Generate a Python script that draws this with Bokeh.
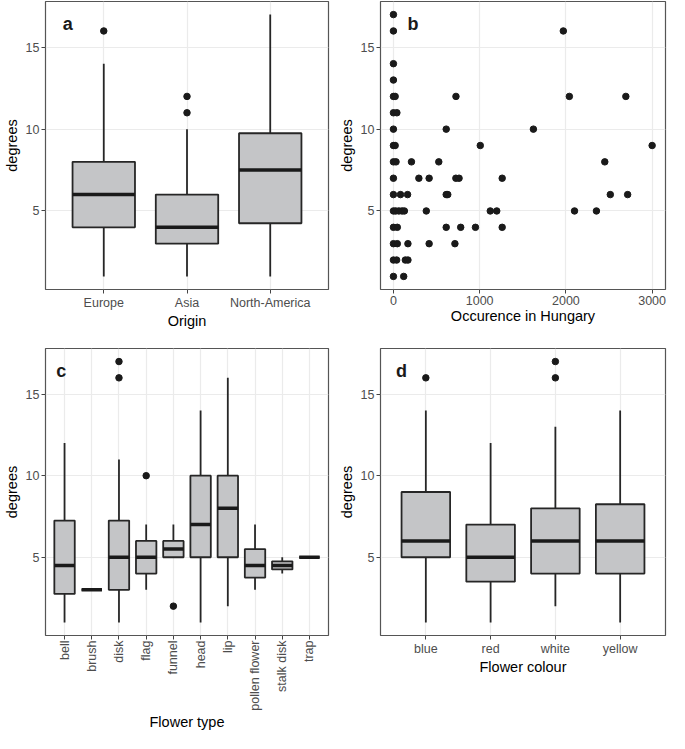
import math
from bokeh.plotting import figure
from bokeh.layouts import column, row
from bokeh.models import FactorRange, Range1d, FixedTicker, Label
from bokeh.embed import file_html
from bokeh.resources import INLINE

FONT = "Liberation Sans"
BOX_FILL = "#C4C5C7"
DARK = "#262626"

# ---------------- data ----------------
# panel a: Origin
origin_cats = ["Europe", "Asia", "North-America"]
origin_low = [1, 1, 1]
origin_q1 = [4, 3, 4.25]
origin_med = [6, 4, 7.5]
origin_q3 = [8, 6, 9.75]
origin_high = [14, 10, 17]
origin_out_x = ["Europe", "Asia", "Asia"]
origin_out_y = [16, 11, 12]

# panel b: occurrence in Hungary vs degrees
occ_x = [0,
         0, 1970,
         0,
         0,
         0, 20, 725, 2040, 2695,
         0, 40,
         0, 612, 1623,
         0, 20, 1007, 3000,
         0, 30, 209, 526, 2451,
         0, 295, 414, 724, 761, 1261,
         0, 82, 164, 612, 630, 2515, 2716,
         0, 26, 63, 100, 127, 381, 1123, 1198, 2100, 2354,
         0, 45, 612, 780, 951, 1261,
         0, 45, 168, 414, 713,
         0, 37, 138, 168,
         0, 119]
occ_y = [17,
         16, 16,
         14,
         13,
         12, 12, 12, 12, 12,
         11, 11,
         10, 10, 10,
         9, 9, 9, 9,
         8, 8, 8, 8, 8,
         7, 7, 7, 7, 7, 7,
         6, 6, 6, 6, 6, 6, 6,
         5, 5, 5, 5, 5, 5, 5, 5, 5, 5,
         4, 4, 4, 4, 4, 4,
         3, 3, 3, 3, 3,
         2, 2, 2, 2,
         1, 1]

# panel c: Flower type
type_cats = ["bell", "brush", "disk", "flag", "funnel", "head", "lip",
             "pollen flower", "stalk disk", "trap"]
type_low = [1, 3, 1, 3, 5, 1, 2, 3, 4, 5]
type_q1 = [2.75, 3, 3, 4, 5, 5, 5, 3.75, 4.25, 5]
type_med = [4.5, 3, 5, 5, 5.5, 7, 8, 4.5, 4.5, 5]
type_q3 = [7.25, 3, 7.25, 6, 6, 10, 10, 5.5, 4.75, 5]
type_high = [12, 3, 11, 7, 7, 14, 16, 7, 5, 5]
type_out_x = ["disk", "disk", "flag", "funnel"]
type_out_y = [16, 17, 10, 2]

# panel d: Flower colour
col_cats = ["blue", "red", "white", "yellow"]
col_low = [1, 1, 2, 1]
col_q1 = [5, 3.5, 4, 4]
col_med = [6, 5, 6, 6]
col_q3 = [9, 7, 8, 8.25]
col_high = [14, 12, 13, 14]
col_out_x = ["blue", "white", "white"]
col_out_y = [16, 16, 17]

Y_TICKS = [5, 10, 15]
OCC_TICKS = [0, 1000, 2000, 3000]
Y_START, Y_END = 0.2, 17.8


def style(p, xlabel):
    p.background_fill_color = "white"
    p.border_fill_color = "white"
    p.outline_line_color = "#555555"
    p.outline_line_width = 1.2
    for ax in p.axis:
        ax.axis_line_color = None
        ax.major_tick_line_color = "#444444"
        ax.major_tick_line_width = 1
        ax.major_tick_out = 4
        ax.major_tick_in = 0
        ax.minor_tick_line_color = None
        ax.major_label_text_font = FONT
        ax.major_label_text_font_size = "12.5px"
        ax.major_label_text_color = "#4D4D4D"
        ax.major_label_standoff = 2
        ax.axis_label_text_font = FONT
        ax.axis_label_text_font_size = "14.5px"
        ax.axis_label_text_font_style = "normal"
        ax.axis_label_text_color = "black"
        ax.axis_label_standoff = 3
    p.xaxis.axis_label = xlabel
    p.xaxis.axis_label_standoff = 0
    p.yaxis.axis_label = "degrees"
    p.yaxis.ticker = FixedTicker(ticks=Y_TICKS)
    p.grid.grid_line_color = "#EBEBEB"
    p.grid.grid_line_width = 1.2


def add_letter(p, txt, x, xoff):
    p.add_layout(Label(x=x, y=16.4, x_offset=xoff, text=txt,
                       text_font=FONT, text_font_size="18px",
                       text_font_style="bold", text_color="#1a1a1a",
                       text_baseline="middle", text_align="left"))


def boxplot(p, cats, low, q1, med, q3, high, out_x, out_y):
    p.segment(x0=cats, y0=q3, x1=cats, y1=high, line_color=DARK, line_width=1.8)
    p.segment(x0=cats, y0=q1, x1=cats, y1=low, line_color=DARK, line_width=1.8)
    p.vbar(x=cats, bottom=q1, top=q3, width=0.75, fill_color=BOX_FILL,
           line_color=DARK, line_width=1.8)
    p.segment(x0=[(c, -0.375) for c in cats], y0=med,
              x1=[(c, 0.375) for c in cats], y1=med,
              line_color="#1a1a1a", line_width=3.5, line_cap="butt")
    p.scatter(x=out_x, y=out_y, size=6.5, fill_color="#1a1a1a",
              line_color="#1a1a1a")


def cat_fig(cats, w, h, left, right, top, bottom):
    return figure(x_range=FactorRange(factors=cats, range_padding=0.2,
                                      range_padding_units="absolute"),
                  y_range=Range1d(Y_START, Y_END), width=w, height=h,
                  min_border_left=left, min_border_right=right,
                  min_border_top=top, min_border_bottom=bottom,
                  output_backend="svg", toolbar_location=None)


TOP_H = 339      # 1 + 288 + 50
BOT_H = 394      # 9 + 287 + 98

# ---------------- panel a ----------------
pa = cat_fig(origin_cats, 335, TOP_H, 40, 7, 1, 50)
boxplot(pa, origin_cats, origin_low, origin_q1, origin_med, origin_q3,
        origin_high, origin_out_x, origin_out_y)
style(pa, "Origin")
add_letter(pa, "a", -0.1, 9)

# ---------------- panel b ----------------
pb = figure(x_range=Range1d(-150, 3155), y_range=Range1d(Y_START, Y_END),
            width=334, height=TOP_H, min_border_left=42, min_border_right=4,
            min_border_top=1, min_border_bottom=50,
            output_backend="svg", toolbar_location=None)
pb.scatter(x=occ_x, y=occ_y, size=6.5, fill_color="#1a1a1a", line_color="#1a1a1a")
style(pb, "Occurence in Hungary")
pb.xaxis.ticker = FixedTicker(ticks=OCC_TICKS)
add_letter(pb, "b", -150, 27)

# ---------------- panel c ----------------
pc = cat_fig(type_cats, 335, BOT_H, 40, 7, 9, 98)
boxplot(pc, type_cats, type_low, type_q1, type_med, type_q3, type_high,
        type_out_x, type_out_y)
style(pc, "Flower type")
pc.xaxis.major_label_orientation = math.pi / 2
pc.xaxis.major_label_standoff = 1
add_letter(pc, "c", -0.1, 8)

# ---------------- panel d ----------------
pd_ = cat_fig(col_cats, 334, BOT_H, 42, 4, 9, 98)
boxplot(pd_, col_cats, col_low, col_q1, col_med, col_q3, col_high,
        col_out_x, col_out_y)
style(pd_, "Flower colour")
add_letter(pd_, "d", -0.1, 9)

layout = column(row(pa, pb), row(pc, pd_))
open("out.html", "w").write(file_html(layout, INLINE))
